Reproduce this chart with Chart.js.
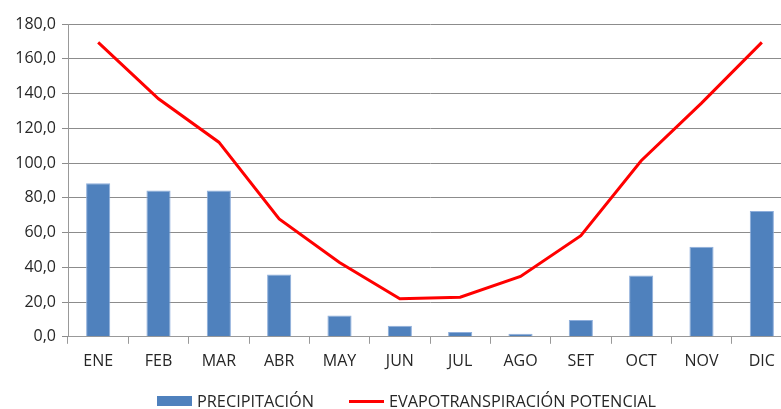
<!DOCTYPE html>
<html>
<head>
<meta charset="utf-8">
<script src="https://cdn.jsdelivr.net/npm/chart.js@4/dist/chart.umd.min.js"></script>
<style>
  html, body { margin: 0; padding: 0; background: #fff; overflow: hidden; }
  #wrap { position: relative; width: 792px; height: 409px; }
  .leyenda { position: absolute; top: 391px; height: 20px; display: flex; align-items: center;
             font-family: 'Open Sans', sans-serif; font-size: 16.3px; color: #262626; white-space: nowrap; }
  .leyenda .muestra { display: inline-block; width: 35px; margin-right: 5px; }
</style>
</head>
<body>
<div id="wrap">
  <canvas id="climaChart"></canvas>
  <div class="leyenda" style="left: 157px;"><span class="muestra" id="muestra0"></span><span id="texto0"></span></div>
  <div class="leyenda" style="left: 349px;"><span class="muestra" id="muestra1"></span><span id="texto1"></span></div>
</div>
<script>
'use strict';

var meses = ['ENE', 'FEB', 'MAR', 'ABR', 'MAY', 'JUN', 'JUL', 'AGO', 'SET', 'OCT', 'NOV', 'DIC'];
var precipitacion = [88.3, 84.2, 84.2, 35.9, 12.2, 6.4, 2.8, 1.8, 9.6, 35.3, 51.8, 72.4];
var evapotranspiracion = [169.4, 137.0, 112.0, 67.8, 42.8, 21.9, 22.8, 34.7, 58.2, 101.3, 134.5, 169.4];

(function () {
  var ctx = document.getElementById('climaChart').getContext('2d');
  var fuente = { family: 'Open Sans', size: 16 };
  var colorTexto = '#262626';

  var chart = new Chart(ctx, {
    data: {
      labels: meses,
      datasets: [
        {
          type: 'line',
          label: 'EVAPOTRANSPIRACIÓN POTENCIAL',
          data: evapotranspiracion,
          borderColor: '#ff0000',
          backgroundColor: '#ff0000',
          borderWidth: 3,
          pointRadius: 0,
          tension: 0,
          order: 1
        },
        {
          type: 'bar',
          label: 'PRECIPITACIÓN',
          data: precipitacion,
          backgroundColor: '#4f81bd',
          borderColor: '#8eaedb',
          borderWidth: 1,
          barPercentage: 0.4,
          categoryPercentage: 1,
          order: 2
        }
      ]
    },
    options: {
      responsive: true,
      maintainAspectRatio: false,
      animation: false,
      layout: { padding: { top: 24, left: 0, right: 0, bottom: 30 } },
      plugins: {
        tooltip: { enabled: false },
        legend: { display: false }
      },
      scales: {
        x: {
          offset: true,
          grid: {
            offset: true,
            drawOnChartArea: false,
            drawTicks: true,
            tickLength: 7,
            color: '#999'
          },
          border: { display: true, color: '#999' },
          ticks: { color: colorTexto, font: fuente, padding: 8 }
        },
        y: {
          min: 0,
          max: 180,
          afterFit: function (scale) { scale.width = 68; },
          grid: { color: '#8c8c8c', tickLength: 6 },
          border: { display: true, color: '#999' },
          ticks: {
            stepSize: 20,
            color: colorTexto,
            font: fuente,
            padding: 6,
            callback: function (v) { return v.toFixed(1).replace('.', ','); }
          }
        }
      }
    }
  });

  // Leyenda en HTML, con los textos y colores de los datasets
  var barras = chart.data.datasets[1];
  var linea = chart.data.datasets[0];
  var m0 = document.getElementById('muestra0');
  m0.style.height = '10px';
  m0.style.background = barras.backgroundColor;
  document.getElementById('texto0').textContent = barras.label;
  var m1 = document.getElementById('muestra1');
  m1.style.height = '3px';
  m1.style.background = linea.borderColor;
  document.getElementById('texto1').textContent = linea.label;
})();
</script>
</body>
</html>
